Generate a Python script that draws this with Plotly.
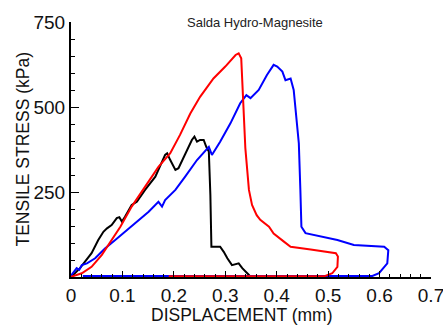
import plotly.graph_objects as go

# Data (displacement mm, tensile stress kPa)
black_x = [0.0, 0.001, 0.0175, 0.027, 0.040, 0.053, 0.063, 0.070, 0.079, 0.089, 0.094, 0.099, 0.105,
           0.118, 0.128, 0.144, 0.164, 0.183, 0.187, 0.193, 0.203, 0.209, 0.222, 0.235, 0.240,
           0.245, 0.251, 0.258, 0.263, 0.268, 0.271, 0.273, 0.290, 0.297, 0.304, 0.313, 0.326,
           0.333, 0.346, 0.349]
black_y = [0, 1, 26, 45, 70, 109, 133, 143, 153, 173, 176, 163, 177,
           212, 221, 256, 295, 359, 364, 344, 315, 320, 364, 403, 413,
           398, 403, 403, 383, 369, 241, 89, 89, 74, 55, 35, 40,
           26, 6, 0]

red_x = [0.0, 0.001, 0.021, 0.040, 0.060, 0.079, 0.096, 0.118, 0.144, 0.170, 0.193, 0.212, 0.232,
         0.251, 0.277, 0.300, 0.320, 0.326, 0.331, 0.333, 0.335, 0.339, 0.346, 0.352, 0.361,
         0.368, 0.385, 0.394, 0.414, 0.427, 0.466, 0.515, 0.519, 0.518, 0.508, 0.492, 0.19]
red_y = [0, 1, 11, 30, 65, 109, 148, 207, 266, 324, 364, 418, 481,
         530, 584, 619, 653, 658, 643, 585, 518, 379, 256, 212, 182,
         168, 148, 128, 104, 89, 81, 70, 60, 30, 11, 2, 2]

blue_x = [0.0, 0.001, 0.011, 0.016, 0.021, 0.031, 0.047, 0.066, 0.086, 0.105, 0.121, 0.138, 0.151,
          0.170, 0.177, 0.183, 0.203, 0.222, 0.245, 0.268, 0.274, 0.290, 0.310, 0.329, 0.341,
          0.349, 0.365, 0.381, 0.394, 0.401, 0.411, 0.417, 0.427, 0.433, 0.437, 0.443, 0.446,
          0.448, 0.456, 0.485, 0.518, 0.550, 0.609, 0.617, 0.615, 0.599, 0.586, 0.023]
blue_y = [0, 6, 26, 21, 35, 40, 55, 84, 109, 133, 153, 177, 192,
          221, 207, 226, 256, 295, 344, 383, 359, 398, 452, 511, 535,
          526, 550, 594, 624, 619, 604, 579, 584, 550, 491, 393, 256,
          148, 129, 119, 109, 94, 89, 79, 40, 11, 3, 3]

x_ticks = [0, 0.1, 0.2, 0.3, 0.4, 0.5, 0.6, 0.7]
x_labels = ["0", "0.1", "0.2", "0.3", "0.4", "0.5", "0.6", "0.7"]
y_ticks = [0, 250, 500, 750]
y_labels = ["", "250", "500", "750"]

FONT = "Liberation Sans, Arial, sans-serif"

fig = go.Figure()
for xs, ys, col in [(black_x, black_y, "#000000"), (blue_x, blue_y, "#0000ff"), (red_x, red_y, "#ff0000")]:
    fig.add_trace(go.Scatter(x=xs, y=ys, mode="lines",
                             line=dict(color=col, width=2), showlegend=False, hoverinfo="skip"))

fig.update_layout(
    width=443, height=327,
    margin=dict(l=71, r=12, t=22, b=50, autoexpand=False),
    paper_bgcolor="white", plot_bgcolor="white",
    font=dict(family=FONT, color="#111111"),
    annotations=[
        dict(text="Salda Hydro-Magnesite", x=0.511, y=1.0, xref="paper", yref="paper",
             xanchor="center", yanchor="middle", showarrow=False,
             font=dict(family=FONT, size=13, color="#222222")),
        dict(text="DISPLACEMENT (mm)", x=0.475, y=0, xref="paper", yref="paper",
             xanchor="center", yanchor="middle", yshift=-38, showarrow=False,
             font=dict(family=FONT, size=17.5, color="#111111")),
        dict(text="TENSILE STRESS (kPa)", x=0, y=0.5, xref="paper", yref="paper",
             xanchor="center", yanchor="middle", xshift=-49, textangle=-90, showarrow=False,
             font=dict(family=FONT, size=17.5, color="#111111")),
    ],
)
fig.update_xaxes(
    range=[0, 0.7], tickmode="array", tickvals=x_ticks, ticktext=x_labels, automargin=False,
    showgrid=False, zeroline=False, showline=True, linecolor="black", linewidth=2,
    ticks="inside", ticklen=6, tickwidth=1, tickcolor="black", ticklabeloverflow="allow",
    minor=dict(dtick=0.02, ticks="inside", ticklen=3, tickcolor="black", tickwidth=1, showgrid=False),
    tickfont=dict(family=FONT, size=19, color="#111111"),
)
fig.update_yaxes(
    range=[0, 750], tickmode="array", tickvals=y_ticks, ticktext=y_labels, automargin=False,
    showgrid=False, zeroline=False, showline=True, linecolor="black", linewidth=2,
    ticks="inside", ticklen=8, tickwidth=1, tickcolor="black",
    minor=dict(dtick=50, ticks="inside", ticklen=4, tickcolor="black", tickwidth=1, showgrid=False),
    tickfont=dict(family=FONT, size=19, color="#111111"),
)

fig.write_html("out.html")
